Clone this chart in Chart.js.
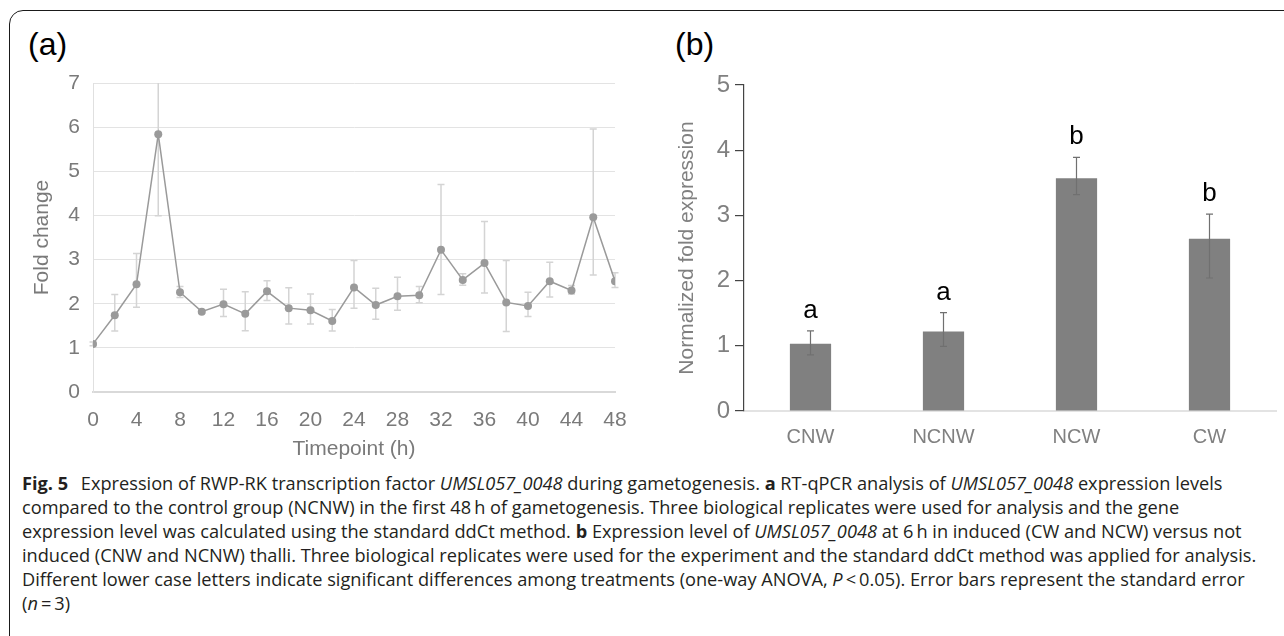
<!DOCTYPE html>
<html>
<head>
<meta charset="utf-8">
<script src="https://cdn.jsdelivr.net/npm/chart.js@4.4.0/dist/chart.umd.min.js"></script>
<style>
  html, body { margin: 0; padding: 0; background: #fff; }
  body { width: 1284px; height: 636px; position: relative; overflow: hidden; }
  .frame { position: absolute; left: 9px; top: 10px; width: 1400px; height: 800px;
           border: 1.5px solid #1a1a1a; border-radius: 14px; }
  .panel { position: absolute; font-family: "Liberation Sans", Arial, sans-serif;
           font-size: 32px; line-height: 32px; color: #000; }
  #chartA { position: absolute; left: 0; top: 0; }
  #chartB { position: absolute; left: 640px; top: 0; }
  .caption { position: absolute; left: 22px; top: 471px; font-family: "Open Sans", sans-serif;
             font-size: 18.2px; line-height: 24px; color: #231f20; white-space: nowrap; }
  .caption b { font-weight: 700; }
  .fig { margin-right: 8px; }
</style>
</head>
<body>
<div class="frame"></div>
<div class="panel" style="left:28px; top:28px;">(a)</div>
<div class="panel" style="left:675px; top:28px;">(b)</div>
<canvas id="chartA" width="650" height="470"></canvas>
<canvas id="chartB" width="644" height="470"></canvas>
<div class="caption">
  <div><b class="fig">Fig. 5</b> Expression of RWP-RK transcription factor <i>UMSL057_0048</i> during gametogenesis. <b>a</b> RT-qPCR analysis of <i>UMSL057_0048</i> expression levels</div>
  <div>compared to the control group (NCNW) in the first 48&#8201;h of gametogenesis. Three biological replicates were used for analysis and the gene</div>
  <div>expression level was calculated using the standard ddCt method. <b>b</b> Expression level of <i>UMSL057_0048</i> at 6&#8201;h in induced (CW and NCW) versus not</div>
  <div>induced (CNW and NCNW) thalli. Three biological replicates were used for the experiment and the standard ddCt method was applied for analysis.</div>
  <div>Different lower case letters indicate significant differences among treatments (one-way ANOVA, <i>P</i>&#8201;&lt;&#8201;0.05). Error bars represent the standard error</div>
  <div>(<i>n</i>&#8201;=&#8201;3)</div>
</div>
<script>
// panel (a): fold change over the first 48 h
const timepoints = [0, 2, 4, 6, 8, 10, 12, 14, 16, 18, 20, 22, 24, 26, 28, 30, 32, 34, 36, 38, 40, 42, 44, 46, 48];
const foldChange = [1.09, 1.74, 2.44, 5.84, 2.26, 1.82, 1.99, 1.77, 2.28, 1.90, 1.85, 1.61, 2.37, 1.97, 2.17, 2.19, 3.22, 2.54, 2.92, 2.03, 1.95, 2.51, 2.30, 3.96, 2.51];
const foldHigh   = [1.13, 2.21, 3.14, 7.69, 2.39, 1.85, 2.33, 2.27, 2.52, 2.36, 2.22, 1.87, 2.98, 2.35, 2.60, 2.39, 4.70, 2.68, 3.86, 2.98, 2.26, 2.94, 2.41, 5.96, 2.70];
const foldLow    = [1.05, 1.38, 1.92, 3.99, 2.14, 1.79, 1.71, 1.39, 2.07, 1.54, 1.54, 1.38, 1.90, 1.65, 1.85, 2.02, 2.21, 2.42, 2.24, 1.37, 1.71, 2.15, 2.22, 2.65, 2.37];

// panel (b): expression at 6 h
const groups     = ['CNW', 'NCNW', 'NCW', 'CW'];
const normExpr   = [1.03, 1.22, 3.57, 2.64];
const normHigh   = [1.23, 1.51, 3.89, 3.02];
const normLow    = [0.86, 0.99, 3.32, 2.04];
const sigLetters = ['a', 'a', 'b', 'b'];

Chart.defaults.font.family = "'Liberation Sans', Arial, sans-serif";
Chart.defaults.animation = false;

function errorBars(id, highs, lows, color, width, cap, hook) {
    return {
        id: id,
        [hook](chart) {
            const ctx = chart.ctx;
            const area = chart.chartArea;
            const ys = chart.scales.y;
            const meta = chart.getDatasetMeta(0);
            ctx.save();
            ctx.beginPath();
            ctx.rect(area.left - 20, area.top, area.right - area.left + 40, area.bottom - area.top);
            ctx.clip();
            ctx.strokeStyle = color;
            ctx.lineWidth = width;
            meta.data.forEach((el, i) => {
                const yh = ys.getPixelForValue(highs[i]);
                const yl = ys.getPixelForValue(lows[i]);
                ctx.beginPath();
                ctx.moveTo(el.x, yh);
                ctx.lineTo(el.x, yl);
                ctx.moveTo(el.x - cap, yh);
                ctx.lineTo(el.x + cap, yh);
                ctx.moveTo(el.x - cap, yl);
                ctx.lineTo(el.x + cap, yl);
                ctx.stroke();
            });
            ctx.restore();
        }
    };
}

const letterPlugin = {
    id: 'letters',
    afterDatasetsDraw(chart) {
        const ctx = chart.ctx;
        const ys = chart.scales.y;
        const meta = chart.getDatasetMeta(0);
        ctx.save();
        ctx.fillStyle = '#000';
        ctx.font = "26px 'Liberation Sans', Arial, sans-serif";
        ctx.textAlign = 'center';
        ctx.textBaseline = 'alphabetic';
        meta.data.forEach((el, i) => {
            ctx.fillText(sigLetters[i], el.x, ys.getPixelForValue(normHigh[i]) - 13);
        });
        ctx.restore();
    }
};

const tickGrey = '#7a7a7a';

new Chart(document.getElementById('chartA'), {
    type: 'line',
    data: {
        datasets: [{
            data: timepoints.map((t, i) => ({ x: t, y: foldChange[i] })),
            borderColor: '#9a9a9a',
            backgroundColor: '#9a9a9a',
            borderWidth: 1.5,
            pointRadius: 4,
            pointBorderWidth: 0,
            tension: 0
        }]
    },
    options: {
        responsive: false,
        layout: { padding: { top: 83, right: 35, left: 0, bottom: 0 } },
        plugins: { legend: { display: false }, tooltip: { enabled: false } },
        scales: {
            x: {
                type: 'linear', min: 0, max: 48,
                afterFit(s) { s.height = 78; },
                ticks: { stepSize: 4, color: tickGrey, font: { size: 21 }, padding: 16, maxRotation: 0, autoSkip: false },
                grid: { display: false, drawTicks: false },
                border: { display: true, color: '#d9d9d9', width: 2 },
                title: { display: true, text: 'Timepoint (h)', color: tickGrey, font: { size: 21 }, padding: { top: 0, bottom: 8 } }
            },
            y: {
                min: 0, max: 7,
                afterFit(s) { s.width = 93; },
                ticks: { stepSize: 1, color: tickGrey, font: { size: 21 }, padding: 13 },
                grid: { color: '#e3e3e3', lineWidth: 1, drawTicks: false },
                border: { display: true, color: '#e0e0e0', width: 1 },
                title: { display: true, text: 'Fold change', color: tickGrey, font: { size: 21 }, padding: { top: 30, bottom: 0 } }
            }
        }
    },
    plugins: [errorBars('errA', foldHigh, foldLow, '#d4d4d4', 1.5, 3.5, 'beforeDatasetsDraw')]
});

new Chart(document.getElementById('chartB'), {
    type: 'bar',
    data: {
        labels: groups,
        datasets: [{
            data: normExpr,
            backgroundColor: '#808080',
            borderWidth: 0,
            barPercentage: 0.31,
            categoryPercentage: 1
        }]
    },
    options: {
        responsive: false,
        layout: { padding: { top: 85, right: 8, left: 0, bottom: 0 } },
        plugins: { legend: { display: false }, tooltip: { enabled: false } },
        scales: {
            x: {
                afterFit(s) { s.height = 59; },
                ticks: { color: '#808080', font: { size: 20 }, padding: 14 },
                grid: { display: false, drawTicks: false },
                border: { display: true, color: '#e3e3e3', width: 2 }
            },
            y: {
                min: 0, max: 5,
                afterFit(s) { s.width = 104; },
                ticks: { stepSize: 1, color: '#808080', font: { size: 24 }, padding: 5 },
                grid: { drawOnChartArea: false, drawTicks: true, tickLength: 9, color: '#444', lineWidth: 1.2 },
                border: { display: true, color: '#444', width: 1.2 },
                title: { display: true, text: 'Normalized fold expression', color: '#808080', font: { size: 21 }, padding: { top: 35, bottom: 0 } }
            }
        }
    },
    plugins: [errorBars('errB', normHigh, normLow, '#707070', 1.2, 3.5, 'afterDatasetsDraw'), letterPlugin]
});
</script>
</body>
</html>
